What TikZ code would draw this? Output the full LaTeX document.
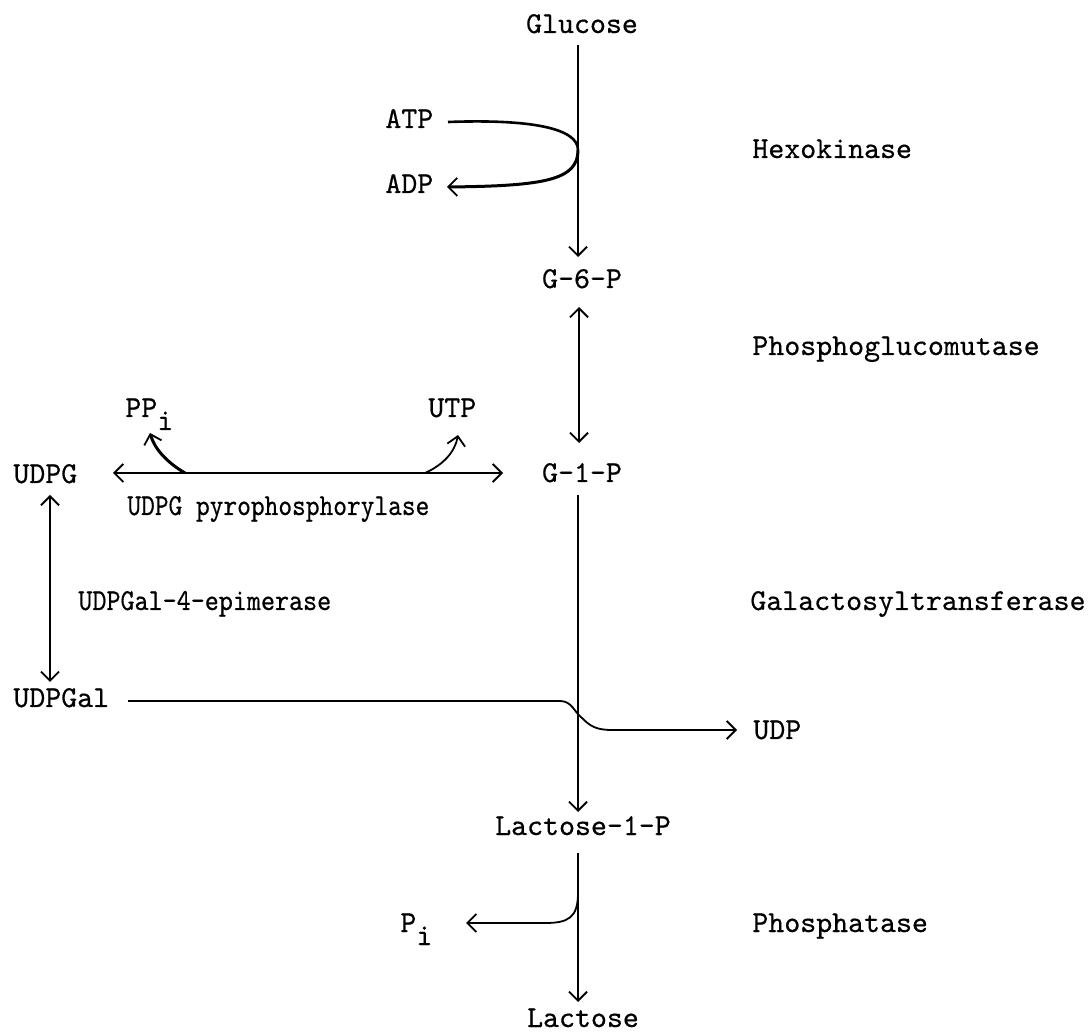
\documentclass[tikz,border=0pt]{standalone}
\usepackage{fontspec}
\usepackage{graphicx}
\setmainfont{lmmono10-regular.otf}[FakeBold=0.5]
\usetikzlibrary{arrows.meta}
\begin{document}
\begin{tikzpicture}[x=0.5pt,y=-0.5pt,
  lbl/.style={inner sep=0pt,anchor=base west,font=\fontsize{15.2}{18}\selectfont},
  clbl/.style={inner sep=0pt,anchor=base,font=\fontsize{15.2}{18}\selectfont},
  conn/.style={line width=0.9pt},
  heavy/.style={line width=1.5pt},
  >={Straight Barb[length=4.5pt,width=9pt,line width=0.9pt]}]
\useasboundingbox (0,0) rectangle (1089,1032);
% labels
\node[clbl] (glu) at (582,33) {Glucose};
\node[lbl] (atp) at (385,128) {ATP};
\node[lbl] (adp) at (385,193) {ADP};
\node[lbl] (hex) at (752,158) {Hexokinase};
\node[clbl] (g6p) at (582,288) {G-6-P};
\node[lbl] (pgm) at (752,355) {Phosphoglucomutase};
\node[lbl] (ppi) at (125,417) {PP\raisebox{-6.5pt}{i}};
\node[lbl] (utp) at (428,417) {UTP};
\node[lbl] (udpg) at (13,483) {UDPG};
\node[clbl] (g1p) at (582,482) {G-1-P};
\node[lbl] (pyro) at (127,515) {\scalebox{0.86}[1]{UDPG pyrophosphorylase}};
\node[lbl] (epi) at (78,610) {\scalebox{0.88}[1]{UDPGal-4-epimerase}};
\node[lbl] (gal) at (750,610) {Galactosyltransferase};
\node[lbl] (udpgal) at (13,707) {UDPGal};
\node[lbl] (udp) at (753,739) {UDP};
\node[clbl] (l1p) at (583,835) {Lactose-1-P};
\node[lbl] (pi) at (400,932) {P\raisebox{-6.5pt}{i}};
\node[lbl] (phos) at (752,932) {Phosphatase};
\node[clbl] (lac) at (583,1027) {Lactose};
% coordinates
\coordinate (a1) at (578,45);
\coordinate (a2) at (578,257);
\coordinate (hk) at (578,150);
\coordinate (b1) at (579,307);
\coordinate (b2) at (579,443);
\coordinate (c1) at (578,495);
\coordinate (c2) at (578,812);
\coordinate (d1) at (578,853);
\coordinate (d2) at (578,1002);
\coordinate (h1) at (113,473);
\coordinate (h2) at (503,473);
\coordinate (v1) at (50,495);
\coordinate (v2) at (50,682);
% main chain
\draw[conn,->] (a1) -- (a2);
\draw[conn,<->] (b1) -- (b2);
\draw[conn,->] (c1) -- (c2);
\draw[conn,->] (d1) -- (d2);
\draw[conn,<->] (h1) -- (h2);
\draw[conn,<->] (v1) -- (v2);
% hexokinase loop
\draw[line width=1.3pt] (448,122) .. controls (530,119) and (578,128) .. (hk);
\draw[heavy,->] (hk) .. controls (578,180) and (545,186) .. (447,187);
% UDPG pyrophosphorylase side arrows
\draw[heavy,->] (185,473) .. controls (168,463) and (155,450) .. (150,433);
\draw[conn,->] (425,473) .. controls (443,465) and (455,452) .. (458,435);
% galactosyltransferase
\draw[conn,->] (128,701) -- (560,701) .. controls (572,701) and (574,712) .. (582,718)
  .. controls (590,726) and (596,730) .. (612,730) -- (737,730);
% phosphatase
\draw[conn,->] (578,893) .. controls (578,918) and (568,923) .. (545,923) -- (466,923);
\end{tikzpicture}
\end{document}
